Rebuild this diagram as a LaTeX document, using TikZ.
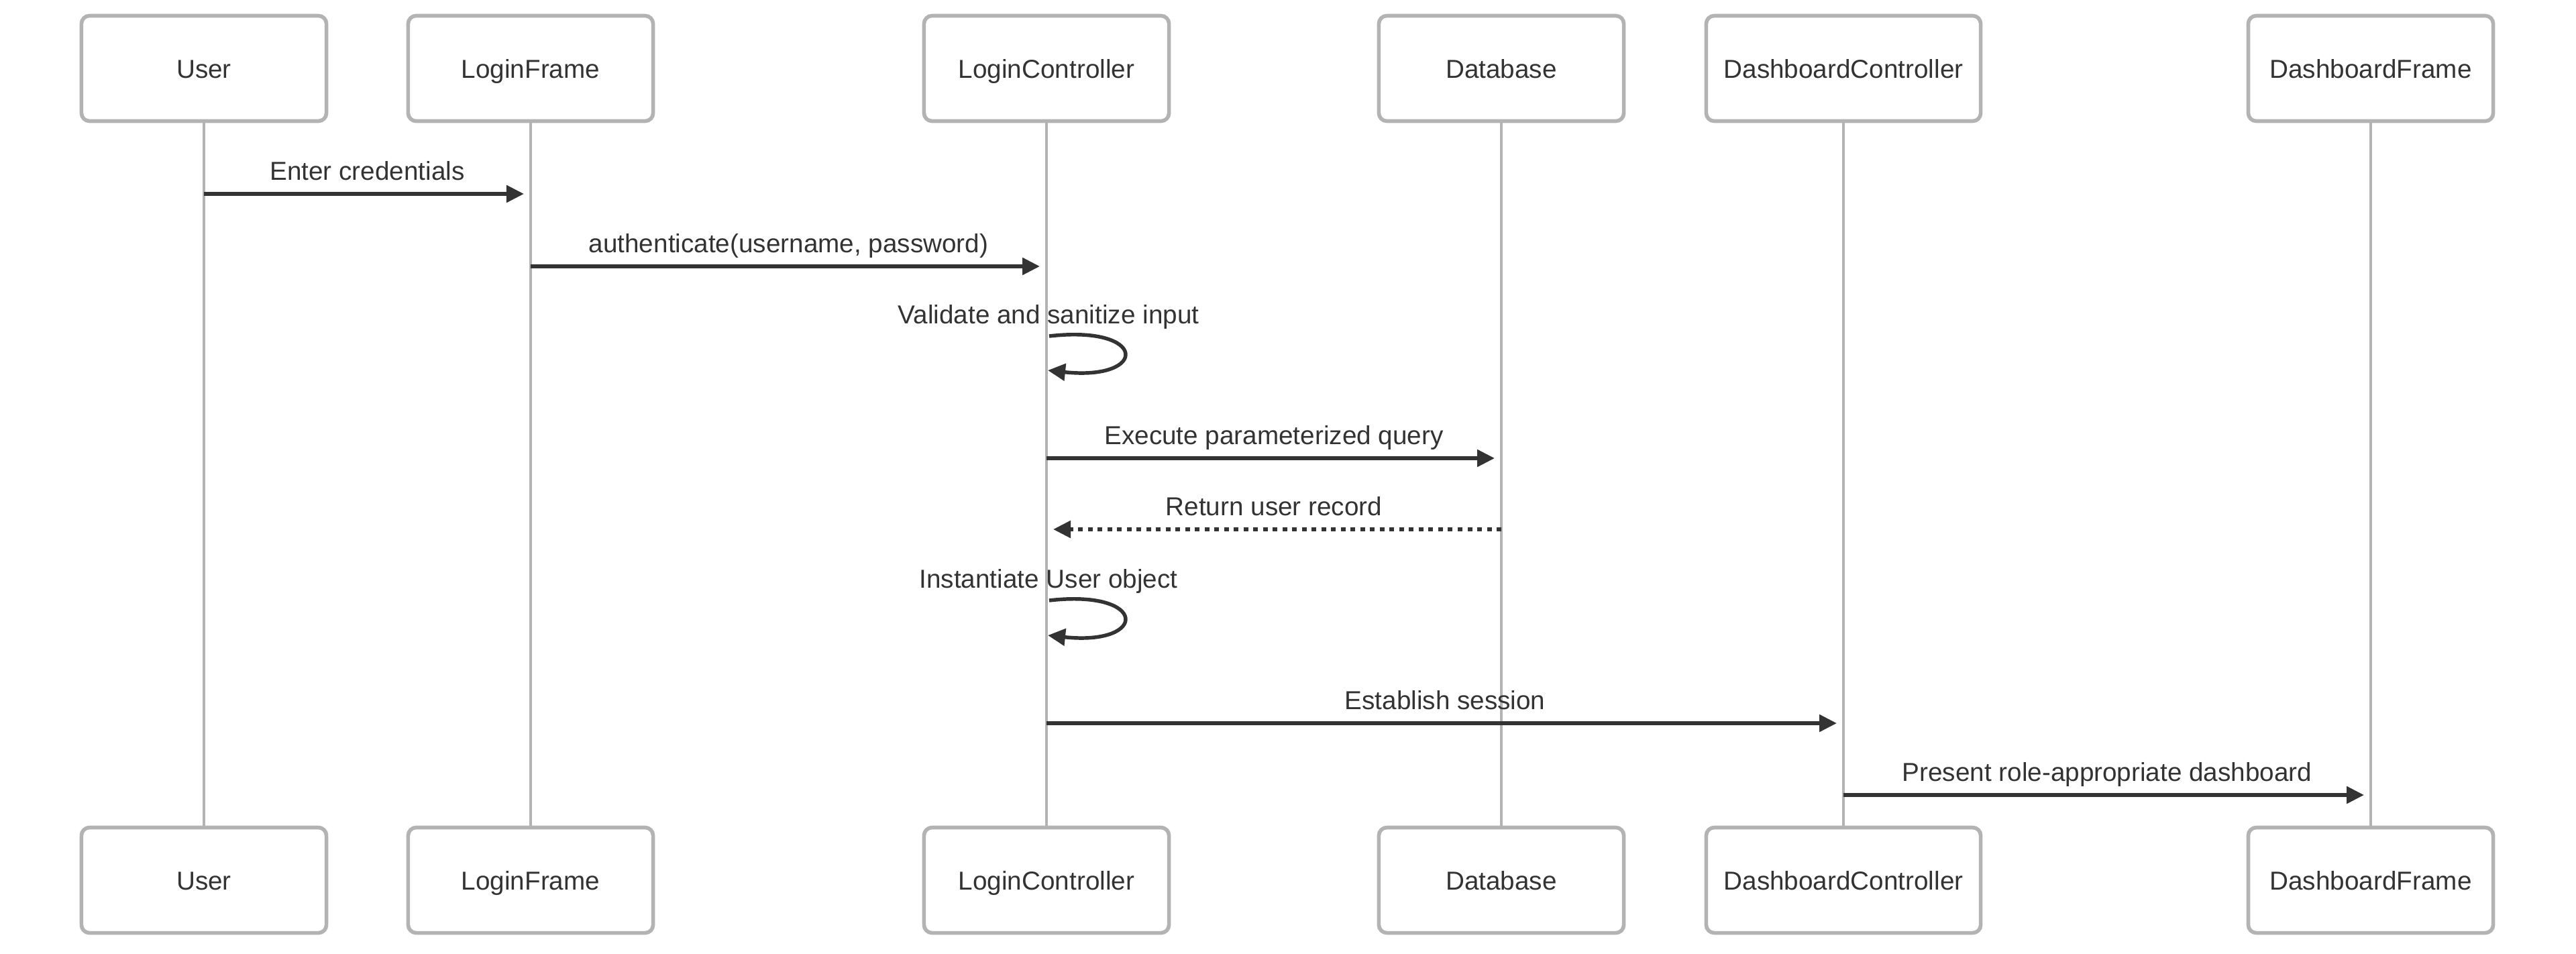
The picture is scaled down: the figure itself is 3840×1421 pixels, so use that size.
\documentclass[tikz,border=0pt]{standalone}
\usepackage{fontspec}
\setmainfont{Liberation Sans}
\usetikzlibrary{arrows.meta}
\definecolor{boxgray}{HTML}{B3B3B3}
\definecolor{ink}{HTML}{333333}
\begin{document}
\begin{tikzpicture}[x=0.01cm,y=-0.01cm,
  actor/.style={draw=boxgray,line width=1.6pt,rounded corners=0.12cm,fill=white,
    minimum width=3.65cm,minimum height=1.57cm,text=ink,font=\fontsize{11}{13}\selectfont,
    text height=0.9em,text depth=0.1em},
  life/.style={draw=boxgray,line width=1.25pt},
  msg/.style={draw=ink,line width=1.55pt,-{Triangle[length=0.26cm,width=0.25cm]}},
  lbl/.style={text=ink,font=\fontsize{11}{13}\selectfont,text height=0.9em,text depth=0.1em}]
\useasboundingbox (0,0) rectangle (3840,1421);
%\draw[step=100,gray,very thin] (0,0) grid (3840,1421);
\node[actor] (user) at (304,102) {User};
\node[actor] (loginframe) at (791,102) {LoginFrame};
\node[actor] (loginctrl) at (1560,102) {LoginController};
\node[actor] (database) at (2238,102) {Database};
\node[actor,minimum width=4.09cm] (dashctrl) at (2748,102) {DashboardController};
\node[actor] (dashframe) at (3534,102) {DashboardFrame};
\node[actor] (user2) at (304,1312) {User};
\node[actor] (loginframe2) at (791,1312) {LoginFrame};
\node[actor] (loginctrl2) at (1560,1312) {LoginController};
\node[actor] (database2) at (2238,1312) {Database};
\node[actor,minimum width=4.09cm] (dashctrl2) at (2748,1312) {DashboardController};
\node[actor] (dashframe2) at (3534,1312) {DashboardFrame};
\draw[life] (user) -- (user2);
\draw[life] (loginframe) -- (loginframe2);
\draw[life] (loginctrl) -- (loginctrl2);
\draw[life] (database) -- (database2);
\draw[life] (dashctrl) -- (dashctrl2);
\draw[life] (dashframe) -- (dashframe2);
\coordinate (m1a) at (304,289);
\coordinate (m1b) at (791,289);
\coordinate (m2a) at (791,397);
\coordinate (m2b) at (1560,397);
\coordinate (s1a) at (1564,501);
\coordinate (s1b) at (1562,552);
\coordinate (m4a) at (1560,683);
\coordinate (m4b) at (2238,683);
\coordinate (m5a) at (2238,789);
\coordinate (m5b) at (1560,789);
\coordinate (s2a) at (1564,895);
\coordinate (s2b) at (1562,947);
\coordinate (m7a) at (1560,1078);
\coordinate (m7b) at (2748,1078);
\coordinate (m8a) at (2748,1185);
\coordinate (m8b) at (3534,1185);
\draw[msg,shorten >=0.1cm] (m1a) -- node[lbl,yshift=0.35cm] (t1) {Enter credentials} (m1b);
\draw[msg,shorten >=0.1cm] (m2a) -- node[lbl,yshift=0.35cm] (t2) {authenticate(username, password)} (m2b);
\draw[msg] (s1a) .. controls (1712,484) and (1712,568) .. (s1b);
\node[lbl] (t3) at (1563,468) {Validate and sanitize input};
\draw[msg,shorten >=0.1cm] (m4a) -- node[lbl,yshift=0.35cm] (t4) {Execute parameterized query} (m4b);
\draw[msg,shorten >=0.1cm,dash pattern=on 0.07cm off 0.075cm] (m5a) -- node[lbl,yshift=0.35cm] (t5) {Return user record} (m5b);
\draw[msg] (s2a) .. controls (1712,878) and (1712,963) .. (s2b);
\node[lbl] (t6) at (1563,862) {Instantiate User object};
\draw[msg,shorten >=0.1cm] (m7a) -- node[lbl,yshift=0.35cm] (t7) {Establish session} (m7b);
\draw[msg,shorten >=0.1cm] (m8a) -- node[lbl,yshift=0.35cm] (t8) {Present role-appropriate dashboard} (m8b);
\end{tikzpicture}
\end{document}
